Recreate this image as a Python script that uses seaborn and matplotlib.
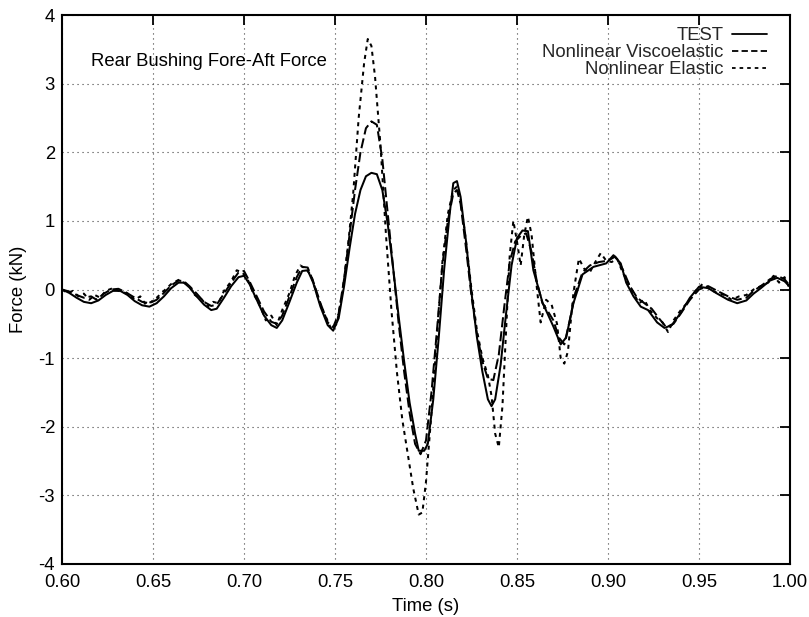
import numpy as np
import pandas as pd
import matplotlib
matplotlib.use("Agg")
import matplotlib.pyplot as plt
import seaborn as sns
from matplotlib.lines import Line2D

# ---------------- data ----------------
test_t = [0.600, 0.604, 0.608, 0.612, 0.616, 0.620, 0.624, 0.628, 0.632, 0.636,
          0.640, 0.644, 0.648, 0.652, 0.656, 0.660, 0.664, 0.667, 0.670, 0.674,
          0.678, 0.682, 0.685, 0.689, 0.693, 0.697, 0.700, 0.703, 0.707, 0.711,
          0.715, 0.718, 0.721, 0.725, 0.729, 0.732, 0.735, 0.738, 0.742, 0.746,
          0.749, 0.752, 0.755, 0.758, 0.761, 0.764, 0.767, 0.770, 0.773, 0.776,
          0.779, 0.782, 0.785, 0.788, 0.791, 0.794, 0.796, 0.799, 0.801, 0.804,
          0.807, 0.810, 0.813, 0.815, 0.817, 0.819, 0.822, 0.825, 0.828, 0.831,
          0.834, 0.836, 0.838, 0.841, 0.844, 0.847, 0.850, 0.853, 0.856, 0.859,
          0.864, 0.870, 0.874, 0.877, 0.881, 0.886, 0.892, 0.899, 0.903, 0.907,
          0.910, 0.914, 0.918, 0.922, 0.927, 0.931, 0.935, 0.940, 0.945, 0.950,
          0.955, 0.960, 0.966, 0.971, 0.976, 0.980, 0.984, 0.989, 0.993, 0.997,
          1.000]
test_f = [0.00, -0.05, -0.12, -0.18, -0.20, -0.16, -0.08, -0.02, -0.02, -0.08,
          -0.17, -0.23, -0.25, -0.20, -0.10, 0.02, 0.10, 0.10, 0.03, -0.10,
          -0.22, -0.30, -0.28, -0.12, 0.05, 0.18, 0.20, 0.08, -0.15, -0.38,
          -0.52, -0.56, -0.45, -0.18, 0.10, 0.27, 0.28, 0.10, -0.25, -0.52,
          -0.60, -0.42, 0.05, 0.60, 1.10, 1.45, 1.65, 1.70, 1.68, 1.45,
          0.95, 0.30, -0.40, -1.05, -1.65, -2.10, -2.35, -2.35, -2.25, -1.60,
          -0.70, 0.30, 1.10, 1.55, 1.58, 1.35, 0.70, -0.05, -0.70, -1.20,
          -1.60, -1.70, -1.60, -1.10, -0.35, 0.35, 0.75, 0.86, 0.85, 0.28,
          -0.19, -0.54, -0.80, -0.70, -0.20, 0.22, 0.33, 0.38, 0.50, 0.38,
          0.10, -0.10, -0.25, -0.30, -0.48, -0.56, -0.52, -0.34, -0.12, 0.04,
          0.02, -0.06, -0.15, -0.20, -0.16, -0.06, 0.02, 0.13, 0.17, 0.12,
          0.04]

visco_t = [0.600, 0.604, 0.608, 0.612, 0.616, 0.619, 0.623, 0.627, 0.631, 0.635,
           0.640, 0.644, 0.648, 0.652, 0.656, 0.660, 0.664, 0.667, 0.670, 0.674,
           0.678, 0.682, 0.685, 0.689, 0.693, 0.697, 0.700, 0.703, 0.707, 0.711,
           0.715, 0.718, 0.721, 0.725, 0.729, 0.732, 0.735, 0.738, 0.742, 0.746,
           0.749, 0.752, 0.755, 0.758, 0.761, 0.764, 0.767, 0.770, 0.773, 0.776,
           0.779, 0.782, 0.785, 0.788, 0.791, 0.794, 0.797, 0.800, 0.803, 0.806,
           0.809, 0.812, 0.815, 0.817, 0.819, 0.822, 0.825, 0.828, 0.831, 0.834,
           0.837, 0.840, 0.843, 0.846, 0.849, 0.852, 0.855, 0.858, 0.861, 0.864,
           0.867, 0.870, 0.873, 0.876, 0.879, 0.882, 0.886, 0.890, 0.895, 0.900,
           0.904, 0.908, 0.912, 0.916, 0.920, 0.924, 0.928, 0.932, 0.936, 0.940,
           0.945, 0.950, 0.955, 0.960, 0.966, 0.971, 0.976, 0.980, 0.984, 0.989,
           0.993, 0.997, 1.000]
visco_f = [0.00, -0.03, -0.08, -0.12, -0.10, -0.15, -0.06, 0.00, 0.01, -0.04,
           -0.12, -0.18, -0.20, -0.15, -0.05, 0.06, 0.13, 0.12, 0.05, -0.06,
           -0.18, -0.24, -0.22, -0.06, 0.10, 0.25, 0.27, 0.12, -0.10, -0.32,
           -0.47, -0.50, -0.38, -0.10, 0.18, 0.33, 0.32, 0.12, -0.20, -0.48,
           -0.55, -0.35, 0.15, 0.80, 1.45, 2.00, 2.35, 2.45, 2.40, 1.90,
           1.10, 0.30, -0.50, -1.20, -1.80, -2.25, -2.40, -2.20, -1.50, -0.60,
           0.35, 1.00, 1.40, 1.45, 1.25, 0.60, -0.10, -0.65, -1.05, -1.30,
           -1.32, -0.95, -0.25, 0.40, 0.70, 0.78, 0.82, 0.55, 0.10, -0.20,
           -0.32, -0.45, -0.70, -0.80, -0.45, -0.05, 0.25, 0.35, 0.40, 0.42,
           0.48, 0.30, 0.05, -0.12, -0.20, -0.28, -0.42, -0.55, -0.50, -0.35,
           -0.15, 0.00, 0.05, -0.02, -0.10, -0.15, -0.12, -0.02, 0.05, 0.15,
           0.20, 0.15, 0.05]

elastic_t = [0.600, 0.603, 0.606, 0.609, 0.612, 0.615, 0.618, 0.621, 0.624, 0.628,
             0.632, 0.636, 0.640, 0.643, 0.646, 0.649, 0.652, 0.656, 0.660, 0.664,
             0.667, 0.670, 0.673, 0.677, 0.680, 0.683, 0.686, 0.689, 0.693, 0.696,
             0.699, 0.702, 0.705, 0.709, 0.712, 0.715, 0.718, 0.721, 0.725, 0.728,
             0.731, 0.734, 0.737, 0.741, 0.745, 0.748, 0.751, 0.754, 0.757, 0.760,
             0.763, 0.766, 0.768, 0.770, 0.772, 0.775, 0.778, 0.781, 0.784, 0.787,
             0.790, 0.793, 0.796, 0.798, 0.800, 0.803, 0.806, 0.809, 0.812, 0.815,
             0.817, 0.819, 0.822, 0.825, 0.828, 0.831, 0.834, 0.836, 0.838, 0.840,
             0.842, 0.844, 0.846, 0.848, 0.850, 0.852, 0.854, 0.856, 0.858, 0.861,
             0.863, 0.866, 0.869, 0.872, 0.874, 0.876, 0.878, 0.881, 0.884, 0.887,
             0.890, 0.893, 0.896, 0.899, 0.902, 0.905, 0.908, 0.911, 0.914, 0.917,
             0.920, 0.923, 0.927, 0.930, 0.933, 0.936, 0.940, 0.944, 0.948, 0.952,
             0.956, 0.960, 0.964, 0.968, 0.972, 0.976, 0.980, 0.984, 0.988, 0.991,
             0.994, 0.997, 1.000]
elastic_f = [0.00, -0.05, -0.02, -0.10, -0.06, -0.15, -0.08, -0.12, -0.02, 0.02,
             -0.03, -0.06, -0.15, -0.10, -0.22, -0.18, -0.12, -0.02, 0.08, 0.14,
             0.10, 0.05, -0.08, -0.15, -0.25, -0.18, -0.20, -0.02, 0.12, 0.28,
             0.25, 0.15, -0.05, -0.25, -0.45, -0.38, -0.52, -0.30, -0.05, 0.20,
             0.35, 0.30, 0.20, -0.15, -0.40, -0.58, -0.50, -0.05, 0.60, 1.40,
             2.50, 3.30, 3.65, 3.55, 3.10, 2.10, 0.80, -0.30, -1.20, -1.90,
             -2.40, -2.90, -3.28, -3.25, -2.80, -1.80, -0.70, 0.40, 1.10, 1.45,
             1.50, 1.30, 0.70, 0.00, -0.60, -1.00, -1.25, -1.55, -2.10, -2.30,
             -1.70, -0.60, 0.50, 1.00, 0.70, 0.35, 0.80, 1.06, 0.80, 0.00,
             -0.48, -0.15, -0.22, -0.50, -1.00, -1.08, -0.90, -0.05, 0.45, 0.30,
             0.25, 0.40, 0.53, 0.42, 0.40, 0.45, 0.25, 0.10, -0.05, -0.20,
             -0.15, -0.30, -0.42, -0.48, -0.62, -0.45, -0.30, -0.18, -0.02, 0.08,
             0.00, -0.05, -0.08, -0.15, -0.10, -0.08, 0.00, 0.05, 0.10, 0.20,
             0.10, 0.18, 0.00]

series_names = ["TEST", "Nonlinear Viscoelastic", "Nonlinear Elastic"]
x_ticks = [0.60, 0.65, 0.70, 0.75, 0.80, 0.85, 0.90, 0.95, 1.00]
y_ticks = [-4, -3, -2, -1, 0, 1, 2, 3, 4]

# ---------------- build long table ----------------
df = pd.concat([
    pd.DataFrame({"Time": test_t, "Force": test_f, "series": series_names[0]}),
    pd.DataFrame({"Time": visco_t, "Force": visco_f, "series": series_names[1]}),
    pd.DataFrame({"Time": elastic_t, "Force": elastic_f, "series": series_names[2]}),
], ignore_index=True)

sns.set_theme(style="white")
plt.rcParams["font.family"] = ["Liberation Sans", "DejaVu Sans"]
FS = 13.3

fig = plt.figure(figsize=(8.09, 6.17), dpi=100)
ax = fig.add_axes([62 / 809, 53 / 617, 728 / 809, 549 / 617])

dash_map = {"TEST": "", "Nonlinear Viscoelastic": (5, 2), "Nonlinear Elastic": (2, 2.2)}
sns.lineplot(data=df, x="Time", y="Force", style="series", dashes=dash_map,
             style_order=series_names, color="black", linewidth=1.45,
             estimator=None, sort=False, legend=False, ax=ax)

ax.set_xlim(0.60, 1.00)
ax.set_ylim(-4, 4)
ax.set_xticks(x_ticks)
ax.set_xticklabels([f"{v:.2f}" for v in x_ticks])
ax.set_yticks(y_ticks)
ax.set_yticklabels([str(v) for v in y_ticks])

ax.grid(True, color="0.25", linestyle=(0, (1, 3.5)), linewidth=0.8)
for s in ax.spines.values():
    s.set_color("black")
    s.set_linewidth(1.5)
ax.tick_params(direction="in", length=7, width=1.3, top=True, right=True,
               labelsize=FS, colors="black")
ax.tick_params(axis="x", pad=7)
ax.tick_params(axis="y", pad=5)

ax.set_xlabel("Time (s)", fontsize=FS, labelpad=5, color="black")
ax.set_ylabel("Force (kN)", fontsize=FS, labelpad=8, color="black")

ax.text(0.040, 0.916, "Rear Bushing Fore-Aft Force", transform=ax.transAxes,
        fontsize=FS, va="center", ha="left", color="black")

handles = [Line2D([], [], color="black", lw=1.3, linestyle="-"),
           Line2D([], [], color="black", lw=1.3, linestyle=(0, (3.5, 1.8))),
           Line2D([], [], color="black", lw=1.3, linestyle=(0, (2, 2.2)))]
ax.legend(handles, series_names, loc="upper right", bbox_to_anchor=(0.968, 0.978),
          frameon=False, markerfirst=False, fontsize=FS, handlelength=1.9,
          handletextpad=0.45, labelspacing=0.0, borderaxespad=0, borderpad=0)

fig.savefig("out.png", dpi=100, facecolor="white")
